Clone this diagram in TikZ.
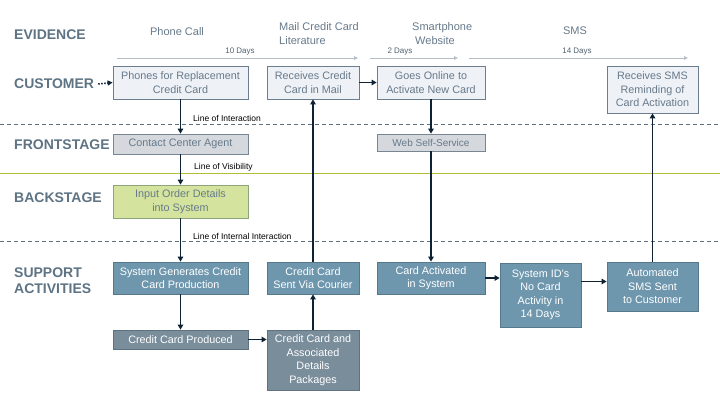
\documentclass[tikz,border=0pt]{standalone}
\usepackage{fontspec}
\setmainfont{Liberation Sans}
\usetikzlibrary{arrows.meta}
\definecolor{lanecol}{HTML}{5E7484}
\definecolor{txtcol}{HTML}{677A8B}
\definecolor{custfill}{HTML}{EEF1F5}
\definecolor{custdraw}{HTML}{6C7E8E}
\definecolor{frontfill}{HTML}{D5D8DD}
\definecolor{frontdraw}{HTML}{788593}
\definecolor{greenfill}{HTML}{D4E49E}
\definecolor{greendraw}{HTML}{8EA47A}
\definecolor{supfill}{HTML}{6E97AE}
\definecolor{supdraw}{HTML}{55788A}
\definecolor{darkfill}{HTML}{798D9B}
\definecolor{darkdraw}{HTML}{5E7281}
\definecolor{arrcol}{HTML}{0E2233}
\definecolor{timecol}{HTML}{B5BEC7}
\definecolor{dashcol}{HTML}{5F6F7D}
\definecolor{viscol}{HTML}{B4BE32}
\tikzset{
  lane/.style={anchor=west, text=lanecol, font=\fontsize{14}{15}\selectfont\bfseries, align=left, inner sep=0pt},
  evid/.style={text=txtcol, font=\fontsize{11}{14.5}\selectfont, align=left, inner sep=0pt},
  small/.style={text=black, font=\fontsize{8.5}{9}\selectfont, inner sep=0pt, anchor=west},
  tsmall/.style={text=txtcol!80!black, font=\fontsize{8}{8.5}\selectfont, inner sep=0pt},
  box/.style={draw, line width=0.8pt, align=center, inner sep=1pt, font=\fontsize{10.8}{13.5}\selectfont},
  cust/.style={box, fill=custfill, draw=custdraw, text=txtcol},
  front/.style={box, fill=frontfill, draw=frontdraw, text=txtcol},
  greenbox/.style={box, fill=greenfill, draw=greendraw, text=txtcol},
  sup/.style={box, fill=supfill, draw=supdraw, text=white},
  darkbox/.style={box, fill=darkfill, draw=darkdraw, text=white},
  flow/.style={draw=arrcol, line width=1.9pt, -{Triangle[length=5pt,width=5.5pt]}},
  timeline/.style={draw=timecol, line width=0.8pt, -{Triangle[length=4pt,width=3.5pt]}},
}
\begin{document}
\begin{tikzpicture}[x=1pt, y=-1pt]
\useasboundingbox[fill=white] (0,0) rectangle (720,405);

% stage lines
\draw[dashcol, line width=0.7pt, dash pattern=on 4pt off 3pt] (0,124) -- (720,124);
\draw[dashcol, line width=0.7pt, dash pattern=on 4pt off 3pt] (0,241) -- (720,241);
\draw[viscol, line width=0.8pt] (0,173) -- (720,173);
\node[small] (loi) at (193,118) {Line of Interaction};
\node[small] (lov) at (194,167) {Line of Visibility};
\node[small] (lii) at (193,236) {Line of Internal Interaction};

% lane labels
\node[lane] (evidence) at (14,35) {EVIDENCE};
\node[lane] (customer) at (14,84) {CUSTOMER};
\node[lane] (frontstage) at (14,145) {FRONTSTAGE};
\node[lane] (backstage) at (14,198) {BACKSTAGE};
\node[lane, font=\fontsize{14}{15.5}\selectfont\bfseries] (support) at (14,280.5) {SUPPORT\\ACTIVITIES};

% evidence
\node[evid] (ev1) at (177,32) {Phone Call};
\node[evid, anchor=west] (ev2) at (279,33.5) {Mail Credit Card\\Literature};
\node[evid, anchor=west] (ev3) at (412,33.5) {Smartphone\\\hspace*{3pt}Website};
\node[evid] (ev4) at (575,31) {SMS};

% timeline
\coordinate (t1a) at (117,58); \coordinate (t1b) at (358,58);
\coordinate (t2a) at (370,58); \coordinate (t2b) at (458,58);
\coordinate (t3a) at (469,58); \coordinate (t3b) at (688,58);
\draw[timeline] (t1a) -- (t1b);
\draw[timeline] (t2a) -- (t2b);
\draw[timeline] (t3a) -- (t3b);
\node[tsmall] (d1) at (240,51.5) {10 Days};
\node[tsmall] (d2) at (400,51.5) {2 Days};
\node[tsmall] (d3) at (577,51.5) {14 Days};

% customer
\node[cust, minimum width=135pt, minimum height=33pt] (c1) at (180.5,82.5) {Phones for Replacement\\Credit Card};
\node[cust, minimum width=92pt, minimum height=33pt] (c2) at (313,82.5) {Receives Credit\\Card in Mail};
\node[cust, minimum width=108pt, minimum height=33pt] (c3) at (431,82.5) {Goes Online to\\Activate New Card};
\node[cust, minimum width=91pt, minimum height=47pt] (c4) at (652.5,89.5) {Receives SMS\\Reminding of\\Card Activation};

% frontstage
\node[front, minimum width=135pt, minimum height=20pt] (f1) at (180.5,144) {Contact Center Agent};
\node[front, minimum width=108pt, minimum height=17pt, font=\fontsize{10}{12}\selectfont] (f2) at (431,142.5) {Web Self-Service};

% backstage
\node[greenbox, minimum width=135pt, minimum height=33pt] (b1) at (180.5,201.5) {Input Order Details\\into System};

% support
\node[sup, minimum width=135pt, minimum height=32pt] (s1) at (180.5,278) {System Generates Credit\\Card Production};
\node[sup, minimum width=92pt, minimum height=32pt] (s2) at (313,278) {Credit Card\\Sent Via Courier};
\node[sup, minimum width=108pt, minimum height=32pt] (s3) at (431,278) {Card Activated\\in System};
\node[sup, minimum width=81pt, minimum height=64pt] (s4) at (540.5,295) {System ID's\\No Card\\Activity in\\14 Days};
\node[sup, minimum width=91pt, minimum height=49pt] (s5) at (652.5,286.5) {Automated\\SMS Sent\\to Customer};
\node[darkbox, minimum width=135pt, minimum height=19pt] (p1) at (180.5,339.5) {Credit Card Produced};
\node[darkbox, minimum width=92pt, minimum height=60pt] (p2) at (313,360) {Credit Card and\\Associated\\Details\\Packages};

% flows
\draw[arrcol, line width=1.5pt, dash pattern=on 1.5pt off 1.5pt, -{Triangle[length=5pt,width=5pt]}] (customer.east) ++(4pt,0) -- (c1.west);
\draw[flow] (c1) -- (f1);
\draw[flow] (f1) -- (b1);
\draw[flow] (b1) -- (s1);
\draw[flow] (s1) -- (p1);
\draw[flow] (p1.east) -- (p1.east -| p2.west);
\draw[flow] (p2) -- (s2);
\draw[flow] (s2) -- (c2);
\draw[flow] (c2) -- (c3);
\draw[flow] (c3) -- (f2);
\draw[flow] (f2) -- (s3);
\draw[flow] (s3.east) -- (s3.east -| s4.west);
\draw[flow] ([yshift=5pt]s4.east |- s5.west) -- ([yshift=5pt]s5.west);
\draw[flow] (s5) -- (c4);
\end{tikzpicture}
\end{document}
